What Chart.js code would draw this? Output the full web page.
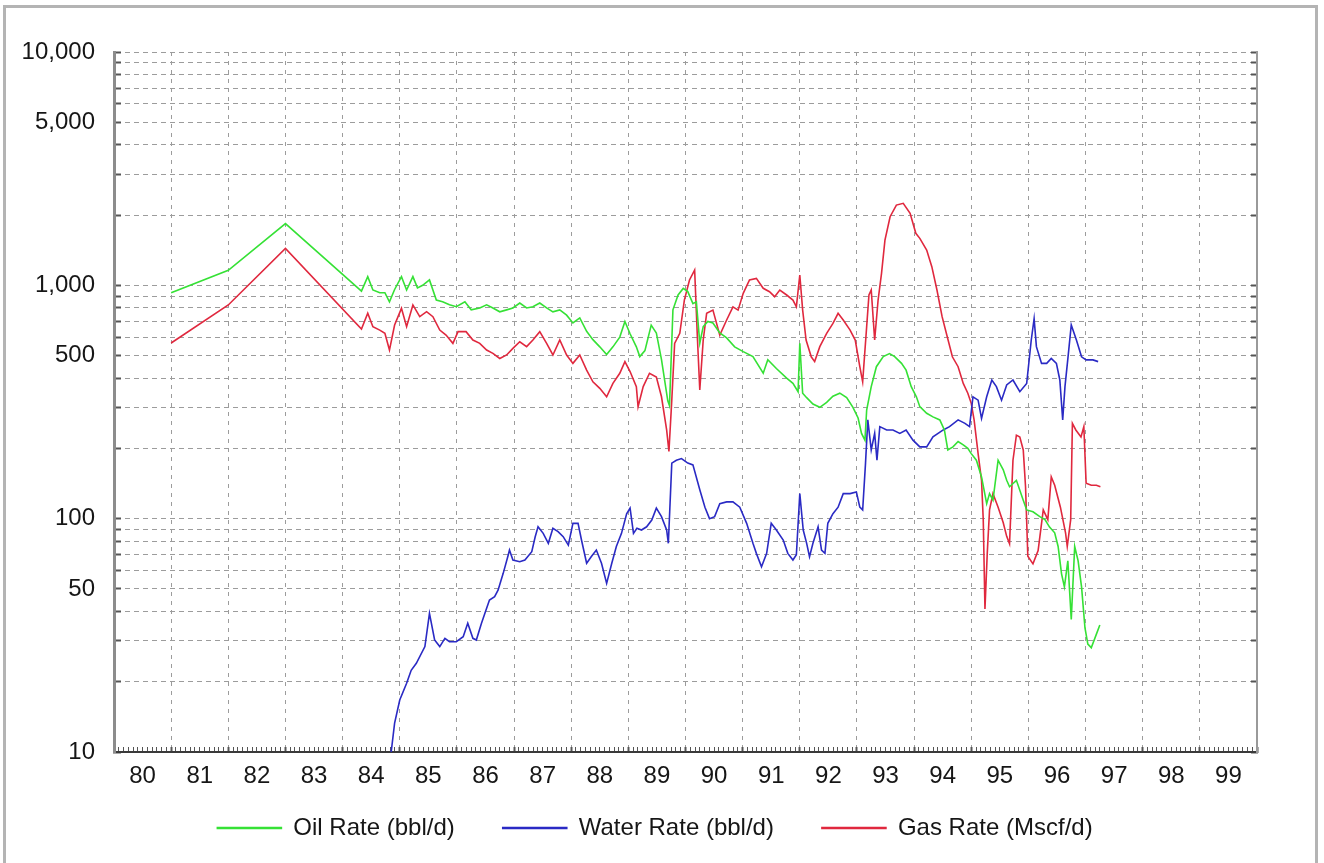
<!DOCTYPE html>
<html>
<head>
<meta charset="utf-8">
<title>Production Rates</title>
<script src="https://cdn.jsdelivr.net/npm/chart.js@4.4.1/dist/chart.umd.min.js"></script>
<style>
  html, body { margin: 0; padding: 0; background: #ffffff; overflow: hidden; }
  #frame { position: absolute; left: 3px; top: 5px; width: 1315px; height: 900px;
           border: 3px solid #b4b4b4; box-sizing: border-box; }
  #chart { position: absolute; left: 0; top: 0; }
</style>
</head>
<body>
<div id="frame"></div>
<canvas id="chart" width="1324" height="863"></canvas>
<script>
// Year labels, centred in each year span (two-digit years)
const yearLabels = ['80','81','82','83','84','85','86','87','88','89',
                    '90','91','92','93','94','95','96','97','98','99'];

// Log axis grid values and the ones that carry a label
const rateTicks = [10,20,30,40,50,60,70,80,90,
                   100,200,300,400,500,600,700,800,900,
                   1000,2000,3000,4000,5000,6000,7000,8000,9000,10000];
const rateLabels = [10, 50, 100, 500, 1000, 5000, 10000];

// Oil rate, bbl/d
const oilYears = [81.0,82.0,83.0,84.33,84.44,84.53,84.65,84.74,84.82,84.91,
  85.03,85.12,85.23,85.31,85.40,85.52,85.64,85.75,85.87,85.99,
  86.14,86.25,86.40,86.52,86.63,86.75,86.87,86.98,87.10,87.22,
  87.33,87.45,87.57,87.68,87.80,87.92,88.03,88.15,88.27,88.38,
  88.50,88.62,88.73,88.85,88.94,89.03,89.14,89.20,89.29,89.40,
  89.49,89.58,89.69,89.72,89.78,89.87,89.96,90.04,90.13,90.19,
  90.25,90.31,90.39,90.48,90.60,90.72,90.86,91.01,91.18,91.36,
  91.44,91.59,91.77,91.88,91.97,92.00,92.05,92.12,92.23,92.35,
  92.47,92.58,92.70,92.82,92.93,93.02,93.08,93.14,93.17,93.25,
  93.34,93.46,93.57,93.66,93.78,93.86,93.95,94.04,94.10,94.22,
  94.33,94.45,94.53,94.59,94.68,94.77,94.86,94.94,95.00,95.09,
  95.18,95.27,95.32,95.38,95.47,95.56,95.62,95.67,95.79,95.91,
  95.97,96.08,96.20,96.29,96.37,96.46,96.52,96.58,96.63,96.69,
  96.75,96.81,96.87,96.93,96.99,97.04,97.10,97.19,97.25];
const oilRates = [930,1160,1840,945,1090,955,930,930,850,960,
  1090,955,1090,975,1000,1055,865,850,825,810,
  850,785,800,825,800,770,785,800,840,800,
  810,840,800,770,785,745,690,725,635,585,
  545,505,545,600,700,620,545,495,525,675,
  625,480,320,305,785,910,970,940,835,850,
  565,665,700,690,625,595,545,520,495,420,
  480,440,400,380,350,565,345,330,310,300,
  315,335,345,330,300,270,232,217,292,368,
  448,495,510,495,463,433,368,333,302,283,
  273,265,240,197,203,214,207,200,190,178,
  151,116,128,120,178,162,146,137,146,120,
  109,107,102,99,92,87,76,58,51,66,
  37,76,66,51,34,29,28,32,35];

// Water rate, bbl/d
const waterYears = [84.85,84.91,85.00,85.12,85.20,85.29,85.44,85.52,85.61,85.70,
  85.79,85.87,85.99,86.11,86.19,86.28,86.34,86.43,86.49,86.57,
  86.66,86.72,86.81,86.89,86.92,86.98,87.10,87.19,87.31,87.37,
  87.42,87.51,87.60,87.68,87.77,87.86,87.95,88.03,88.12,88.18,
  88.27,88.35,88.44,88.53,88.62,88.71,88.79,88.88,88.97,89.03,
  89.09,89.15,89.23,89.32,89.41,89.49,89.58,89.67,89.70,89.76,
  89.84,89.93,90.04,90.13,90.25,90.34,90.42,90.51,90.60,90.72,
  90.83,90.95,91.07,91.18,91.24,91.33,91.42,91.50,91.59,91.71,
  91.79,91.88,91.94,92.00,92.06,92.12,92.17,92.23,92.32,92.38,
  92.44,92.49,92.58,92.67,92.76,92.88,92.99,93.05,93.10,93.15,
  93.19,93.25,93.31,93.35,93.40,93.52,93.63,93.75,93.86,93.98,
  94.10,94.22,94.33,94.51,94.62,94.77,94.89,94.97,95.03,95.12,
  95.18,95.27,95.36,95.44,95.53,95.62,95.73,95.85,95.97,96.05,
  96.10,96.14,96.23,96.32,96.40,96.49,96.55,96.60,96.64,96.70,
  96.75,96.84,96.93,97.01,97.13,97.22];
const waterRates = [10,13.3,16.7,19.7,22.4,24,28.3,39.3,30.2,28.3,
  30.7,29.7,29.7,31.2,35.6,30.7,30.2,35.6,39.3,44.8,
  46.3,49.4,58.3,68.7,73.4,66.5,65.4,66.5,72.2,83.7,
  92.3,86.5,78.4,90.9,88,83.7,77,95.5,95.5,81,
  64.4,68.7,73.4,64.4,52.8,64.4,76,86.5,105,111,
  86.5,90.9,89.4,92.3,98.6,111,102,89.4,78.4,173,
  178,181,173,170,133,112,100,102,116,118,
  118,112,95.5,78.4,71,62.2,71,95.5,89.4,81,
  71,66.5,70,128,89.4,78.4,68.7,78.4,92.3,73.4,
  71,95.5,105,112,128,128,130,112,109,173,
  265,197,232,178,248,240,240,232,240,217,
  203,203,224,240,248,265,256,248,333,322,
  269,333,393,368,322,374,393,350,380,583,
  720,546,463,463,486,463,393,265,368,511,
  676,583,494,479,479,471];

// Gas rate, Mscf/d
const gasYears = [81.0,82.0,83.0,84.33,84.44,84.53,84.65,84.74,84.82,84.91,
  85.03,85.12,85.23,85.35,85.47,85.58,85.70,85.81,85.93,86.02,
  86.16,86.28,86.40,86.52,86.63,86.75,86.87,86.98,87.10,87.22,
  87.33,87.45,87.57,87.68,87.80,87.92,88.03,88.15,88.27,88.38,
  88.50,88.62,88.73,88.85,88.94,89.03,89.14,89.17,89.26,89.37,
  89.49,89.58,89.67,89.71,89.76,89.81,89.90,89.98,90.07,90.16,
  90.21,90.25,90.31,90.37,90.48,90.60,90.72,90.83,90.92,91.01,
  91.12,91.24,91.36,91.47,91.56,91.65,91.77,91.88,91.94,92.00,
  92.05,92.11,92.20,92.26,92.35,92.47,92.58,92.67,92.76,92.88,
  92.97,93.05,93.10,93.17,93.21,93.25,93.31,93.37,93.43,93.49,
  93.58,93.69,93.81,93.93,94.03,94.10,94.22,94.31,94.40,94.49,
  94.58,94.67,94.77,94.86,94.94,95.00,95.05,95.12,95.18,95.21,
  95.24,95.28,95.32,95.38,95.47,95.56,95.62,95.67,95.73,95.79,
  95.85,95.91,95.95,95.99,96.08,96.17,96.26,96.34,96.40,96.46,
  96.56,96.65,96.68,96.74,96.77,96.83,96.92,96.97,97.01,97.10,
  97.19,97.26];
const gasRates = [566,824,1440,650,760,665,643,623,528,676,
  797,665,824,734,771,734,643,612,564,633,
  633,583,564,528,511,486,503,537,573,546,
  583,633,564,503,583,503,463,503,433,386,
  362,333,380,420,471,427,368,302,368,420,
  405,333,240,194,322,564,623,865,1054,1163,
  583,356,583,759,783,612,710,809,783,924,
  1054,1071,971,939,894,955,909,865,809,1107,
  783,583,494,471,546,623,687,759,710,643,
  583,448,386,665,909,955,583,865,1126,1563,
  1968,2208,2247,2035,1671,1590,1416,1202,955,734,
  602,494,448,380,345,312,265,190,146,99,
  41,71,109,128,112,96,84,78,178,228,
  224,197,137,69,64,73,109,99,151,139,
  112,87,76,99,256,240,224,248,142,139,
  139,137];

const FONT = "'Liberation Sans', Arial, Helvetica, sans-serif";
const GRID = '#9c9c9c';
const OIL = '#35e135';
const WATER = '#2a2ac4';
const GAS = '#e0283e';

// Month-by-month positions along the time axis (year boundaries every 12th)
const monthTicks = [];
for (let k = 0; k <= 240; k++) monthTicks.push(80 + k / 12);

const toPoints = (xs, ys) => xs.map((x, i) => ({ x: x, y: ys[i] }));

function lineSet(label, xs, ys, color) {
  return {
    label: label,
    data: toPoints(xs, ys),
    borderColor: color,
    backgroundColor: color,
    borderWidth: 1.6,
    pointRadius: 0,
    tension: 0,
    fill: false
  };
}

// The time axis is laid out thin so the legend sits close to the plot;
// after layout its box is extended again so the year labels are not clipped.
const yearLabelRoom = {
  id: 'yearLabelRoom',
  afterLayout(chart) {
    const s = chart.scales.x;
    s.bottom = s.top + 44;
    s.height = 44;
  }
};

new Chart(document.getElementById('chart'), {
  type: 'line',
  data: {
    datasets: [
      lineSet('Oil Rate (bbl/d)', oilYears, oilRates, OIL),
      lineSet('Water Rate (bbl/d)', waterYears, waterRates, WATER),
      lineSet('Gas Rate (Mscf/d)', gasYears, gasRates, GAS)
    ]
  },
  plugins: [yearLabelRoom],
  options: {
    responsive: false,
    animation: false,
    devicePixelRatio: 1,
    layout: { padding: { left: 0, right: 14, top: 52, bottom: 13 } },
    plugins: {
      tooltip: { enabled: false },
      legend: {
        position: 'bottom',
        labels: {
          boxWidth: 64,
          boxHeight: 1,
          padding: 48,
          color: '#161616',
          font: { family: FONT, size: 24 }
        }
      }
    },
    scales: {
      x: {
        type: 'linear',
        position: 'bottom',
        min: 80,
        max: 100,
        afterBuildTicks: axis => { axis.ticks = monthTicks.map(v => ({ value: v })); },
        afterFit: axis => { axis.height = 16; },
        ticks: {
          autoSkip: false,
          maxRotation: 0,
          minRotation: 0,
          padding: 15,
          color: '#161616',
          font: { family: FONT, size: 24 },
          callback: (v, i) => (i % 12 === 6 ? yearLabels[(i - 6) / 12] : '')
        },
        grid: {
          color: ctx => (ctx.index % 12 === 0 ? GRID : 'rgba(0,0,0,0)'),
          lineWidth: 1,
          tickLength: -5,
          tickColor: '#555555',
          tickWidth: ctx => (ctx.index % 12 === 0 ? 2 : 1)
        },
        border: { display: true, color: '#3a3a3a', width: 2, dash: [4, 5] }
      },
      y: {
        type: 'logarithmic',
        position: 'left',
        min: 10,
        max: 10000,
        afterBuildTicks: axis => { axis.ticks = rateTicks.map(v => ({ value: v })); },
        afterFit: axis => { axis.width = 114; },
        ticks: {
          autoSkip: false,
          padding: 26,
          color: '#161616',
          font: { family: FONT, size: 24 },
          callback: v => (rateLabels.includes(v) ? v.toLocaleString('en-US') : '')
        },
        grid: {
          color: GRID,
          lineWidth: 1,
          tickLength: -7,
          tickColor: '#555555',
          tickWidth: 2
        },
        border: { display: true, color: '#8c8c8c', width: 3, dash: [5, 4] }
      },
      y2: {
        type: 'logarithmic',
        position: 'right',
        min: 10,
        max: 10000,
        afterBuildTicks: axis => { axis.ticks = rateTicks.map(v => ({ value: v })); },
        afterFit: axis => { axis.width = 53; },
        ticks: { display: false },
        grid: {
          drawOnChartArea: false,
          tickLength: -6,
          tickColor: '#555555',
          tickWidth: 2
        },
        border: { display: true, color: '#9a9a9a', width: 2 }
      }
    }
  }
});
</script>
</body>
</html>
